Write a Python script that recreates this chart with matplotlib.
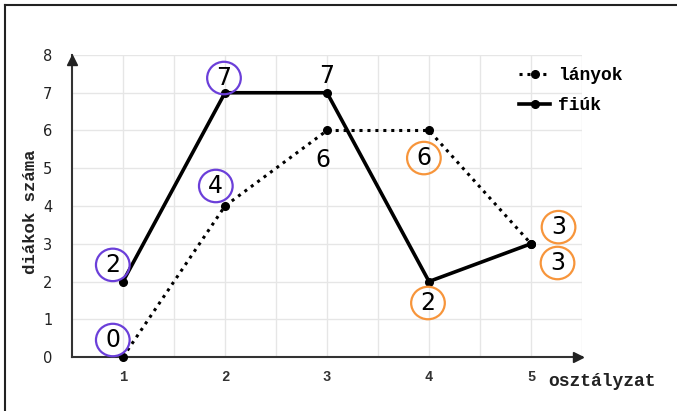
import matplotlib
matplotlib.use("Agg")
import matplotlib.pyplot as plt
from matplotlib.patches import Ellipse
from matplotlib.lines import Line2D

grades = [1, 2, 3, 4, 5]
girls = [0, 4, 6, 6, 3]
boys = [2, 7, 7, 2, 3]
series_labels = ["lányok", "fiúk"]
x_label = "osztályzat"
y_label = "diákok száma"

# handwritten annotations: (text, x, y, circle colour or None)
PURPLE = "#6b3fd9"
ORANGE = "#f7953b"
notes = [
    ("2", 0.90, 2.44, PURPLE),
    ("0", 0.90, 0.45, PURPLE),
    ("4", 1.91, 4.53, PURPLE),
    ("7", 1.99, 7.39, PURPLE),
    ("7", 3.00, 7.44, None),
    ("6", 2.96, 5.22, None),
    ("6", 3.95, 5.27, ORANGE),
    ("3", 5.27, 3.44, ORANGE),
    ("3", 5.26, 2.49, ORANGE),
    ("2", 3.99, 1.43, ORANGE),
]

W, H = 677, 411
fig = plt.figure(figsize=(W / 100, H / 100), dpi=100)
fig.patch.set_facecolor("white")

left, right, bottom, top = 72, 582, 357, 55
ax = fig.add_axes([left / W, (H - bottom) / H, (right - left) / W, (bottom - top) / H])
ax.set_xlim(0.5, 5.5)
ax.set_ylim(0, 8)

mono = "Liberation Mono"
# grid
ax.set_xticks(grades)
ax.set_xticks([1.5, 2.5, 3.5, 4.5, 5.5], minor=True)
ax.set_yticks(range(0, 9))
ax.grid(True, which="both", color="#e6e6e6", linewidth=1.0, zorder=0)
ax.tick_params(which="both", length=0)
ax.tick_params(axis="x", pad=9)
ax.tick_params(axis="y", pad=14)
for lab in ax.get_xticklabels():
    lab.set_fontfamily(mono)
    lab.set_fontweight("bold")
    lab.set_fontsize(10)
    lab.set_color("#333333")
for lab in ax.get_yticklabels():
    lab.set_fontfamily("DejaVu Sans")
    lab.set_fontsize(10.5)
    lab.set_color("#222222")

for s in ["top", "right"]:
    ax.spines[s].set_visible(False)
for s in ["left", "bottom"]:
    ax.spines[s].set_color("#333333")
    ax.spines[s].set_linewidth(1.5)

# axis arrows
ax.plot([0.5], [7.88], marker="^", color="#222222", markersize=7, clip_on=False, zorder=5)
ax.plot([5.46], [0], marker=">", color="#222222", markersize=7, clip_on=False, zorder=5)

# data lines
ax.plot(grades, girls, linestyle=(0, (1, 1.6)), linewidth=2.2, color="black",
        marker="o", markersize=5.5, label=series_labels[0], zorder=4, clip_on=False)
ax.plot(grades, boys, linestyle="-", linewidth=2.6, color="black",
        marker="o", markersize=5.5, label=series_labels[1], zorder=4, clip_on=False)

# labels
fig.text(31 / W, 1 - 212 / H, y_label, rotation=90, ha="center", va="center",
         fontfamily=mono, fontweight="bold", fontsize=12.5, color="#222222")
fig.text(548 / W, 1 - 381 / H, x_label, ha="left", va="center",
         fontfamily=mono, fontweight="bold", fontsize=13, color="#222222")

leg = fig.legend(loc="upper left", bbox_to_anchor=(512 / W, 1 - 60 / H),
                 frameon=False, handlelength=1.7, handletextpad=0.45,
                 labelspacing=0.72, borderaxespad=0,
                 prop={"family": mono, "weight": "bold", "size": 13})

# handwritten annotations
for txt, x, y, col in notes:
    ax.text(x, y, txt, ha="center", va="center", fontsize=17,
            fontfamily="DejaVu Sans", color="black",
            zorder=6, clip_on=False)
    if col:
        e = Ellipse((x, y), width=0.33, height=0.86, angle=0, fill=False,
                    edgecolor=col, linewidth=1.6, zorder=6, clip_on=False)
        ax.add_patch(e)

# frame lines at left and top
fig.add_artist(Line2D([5 / W, 5 / W], [0, 1 - 5 / H], transform=fig.transFigure,
                      color="#222222", linewidth=1.5))
fig.add_artist(Line2D([5 / W, 1], [1 - 5 / H, 1 - 5 / H], transform=fig.transFigure,
                      color="#222222", linewidth=1.5))

fig.savefig("out.png", dpi=100, facecolor="white")
